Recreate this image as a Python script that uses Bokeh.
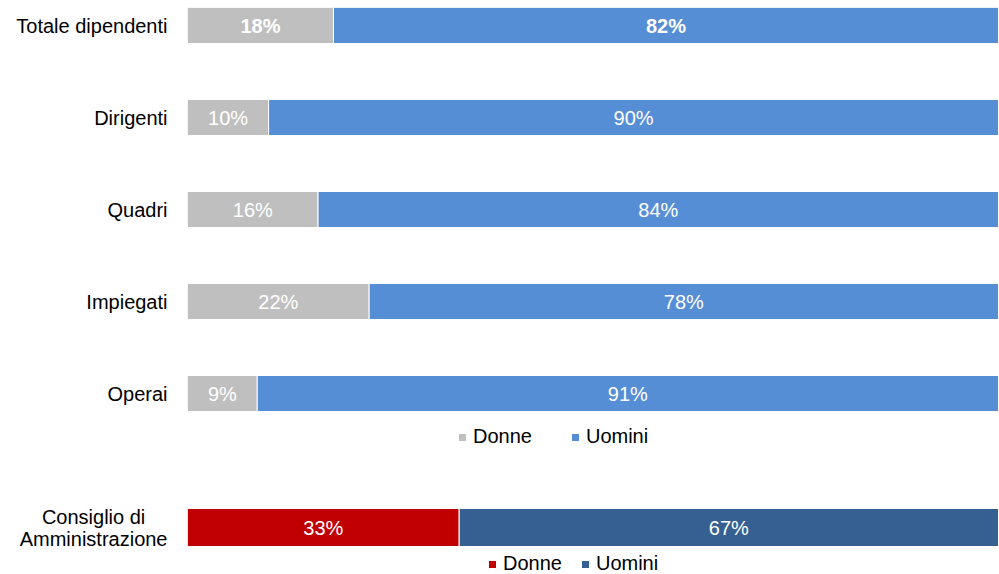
from bokeh.plotting import figure
from bokeh.models import Range1d, ColumnDataSource, Legend, LegendItem, FixedTicker, LabelSet
from bokeh.core.properties import value
from bokeh.layouts import column
from bokeh.embed import file_html
from bokeh.resources import INLINE

# ---- data ----
categories = ["Totale dipendenti", "Dirigenti", "Quadri", "Impiegati", "Operai"]
donne = [18.0, 10.0, 16.1, 22.4, 8.6]
uomini = [82.0, 90.0, 83.9, 77.6, 91.4]
donne_labels = ["18%", "10%", "16%", "22%", "9%"]
uomini_labels = ["82%", "90%", "84%", "78%", "91%"]
label_styles = ["bold", "normal", "normal", "normal", "normal"]

cda_category = ["Consiglio di\u00a0\u00a0\u00a0\u00a0\nAmministrazione"]
cda_donne = [33.5]
cda_uomini = [66.5]
cda_donne_labels = ["33%"]
cda_uomini_labels = ["67%"]

series_names = ["Donne", "Uomini"]
top_colors = ["#BFBFBF", "#558ED5"]
cda_colors = ["#C00000", "#376092"]

FONT = "Liberation Sans"
FS = "20px"
W = 998
TOP = 7
H1 = TOP + 448
H2 = 118
ROW = 92.0


def style(p):
    p.xaxis.visible = False
    p.xgrid.visible = False
    p.ygrid.visible = False
    p.outline_line_color = None
    p.yaxis.axis_line_color = None
    p.yaxis.major_tick_line_color = None
    p.yaxis.minor_tick_line_color = None
    p.yaxis.major_tick_out = 0
    p.yaxis.major_tick_in = 0
    p.yaxis.major_label_text_font = FONT
    p.yaxis.major_label_text_font_size = FS
    p.yaxis.major_label_text_color = "#000000"
    p.yaxis.major_label_standoff = 20
    p.min_border_left = 187
    p.min_border_right = 0
    p.min_border_bottom = 0


# ---- top figure ----
ys = list(range(len(categories)))
left_u = donne[:]
right_u = [d + u for d, u in zip(donne, uomini)]
src = ColumnDataSource(dict(
    y=ys, zero=[0] * len(ys), d=donne, u_left=left_u, u_right=right_u,
    d_mid=[d / 2 for d in donne],
    u_mid=[(a + b) / 2 for a, b in zip(left_u, right_u)],
    d_lab=donne_labels, u_lab=uomini_labels, st=label_styles,
))

p1 = figure(width=W, height=H1, output_backend="svg", toolbar_location=None,
            x_range=Range1d(0, 100),
            y_range=Range1d((448 - 18) / ROW, -18 / ROW))
style(p1)
p1.min_border_top = TOP
p1.yaxis.ticker = FixedTicker(ticks=ys)
p1.yaxis.major_label_overrides = {i: c for i, c in enumerate(categories)}

bh = 36 / ROW
r_d = p1.hbar(y="y", left="zero", right="d", height=bh, source=src,
              fill_color=top_colors[0], line_color="white", line_width=1)
r_u = p1.hbar(y="y", left="u_left", right="u_right", height=bh, source=src,
              fill_color=top_colors[1], line_color="white", line_width=1)

for xcol, tcol in (("d_mid", "d_lab"), ("u_mid", "u_lab")):
    p1.add_layout(LabelSet(x=xcol, y="y", text=tcol, source=src,
                           text_align="center", text_baseline="middle",
                           text_color="white", text_font=value(FONT),
                           text_font_size=value(FS), text_font_style="st"))

leg1 = Legend(items=[LegendItem(label=series_names[0], renderers=[r_d]),
                     LegendItem(label=series_names[1], renderers=[r_u])],
              orientation="horizontal", location=(270, 7),
              border_line_color=None, background_fill_alpha=0,
              glyph_width=10, glyph_height=10, label_standoff=6, spacing=38,
              padding=0, margin=0,
              label_text_font=FONT, label_text_font_size=FS,
              label_text_color="#000000")
p1.add_layout(leg1)

# ---- bottom figure ----
src2 = ColumnDataSource(dict(
    y=[0], zero=[0], d=cda_donne, u_left=cda_donne,
    u_right=[a + b for a, b in zip(cda_donne, cda_uomini)],
    d_mid=[cda_donne[0] / 2], u_mid=[cda_donne[0] + cda_uomini[0] / 2],
    d_lab=cda_donne_labels, u_lab=cda_uomini_labels,
))
p2 = figure(width=W, height=H2, output_backend="svg", toolbar_location=None,
            x_range=Range1d(0, 100),
            y_range=Range1d((H2 - 72) / ROW, -72 / ROW))
style(p2)
p2.min_border_top = 0
p2.yaxis.ticker = FixedTicker(ticks=[0])
p2.yaxis.major_label_overrides = {0: cda_category[0]}
p2.yaxis.major_label_text_line_height = 1.0

bh2 = 38 / ROW
r_d2 = p2.hbar(y="y", left="zero", right="d", height=bh2, source=src2,
               fill_color=cda_colors[0], line_color="white", line_width=1)
r_u2 = p2.hbar(y="y", left="u_left", right="u_right", height=bh2, source=src2,
               fill_color=cda_colors[1], line_color="white", line_width=1)
for xcol, tcol in (("d_mid", "d_lab"), ("u_mid", "u_lab")):
    p2.add_layout(LabelSet(x=xcol, y="y", text=tcol, source=src2,
                           text_align="center", text_baseline="middle",
                           text_color="white", text_font=value(FONT),
                           text_font_size=value(FS)))

leg2 = Legend(items=[LegendItem(label=series_names[0], renderers=[r_d2]),
                     LegendItem(label=series_names[1], renderers=[r_u2])],
              orientation="horizontal", location=(300, -2),
              border_line_color=None, background_fill_alpha=0,
              glyph_width=10, glyph_height=10, label_standoff=6, spacing=18,
              padding=0, margin=0,
              label_text_font=FONT, label_text_font_size=FS,
              label_text_color="#000000")
p2.add_layout(leg2)

layout = column(p1, p2, spacing=0)
open("out.html", "w").write(file_html(layout, INLINE))
